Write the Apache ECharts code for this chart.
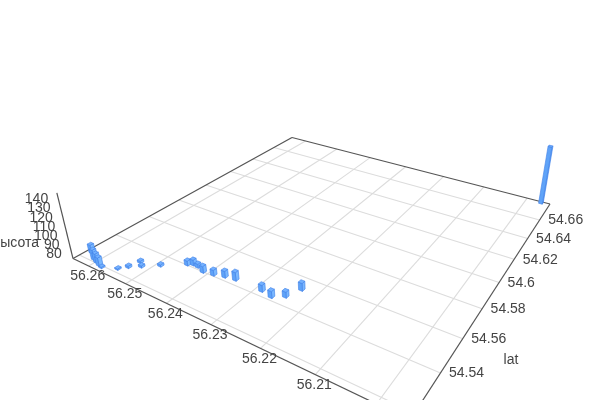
<!DOCTYPE html>
<html><head><meta charset="utf-8"><style>html,body{margin:0;background:#fff}#c{width:600px;height:400px}</style>
<script src="https://cdn.jsdelivr.net/npm/echarts@6/dist/echarts.min.js"></script></head><body><div id="c"></div><script>
const lonTicks=[56.26,56.25,56.24,56.23,56.22,56.21,56.2];
const latTicks=[54.52,54.54,54.56,54.58,54.6,54.62,54.64,54.66];
const zTicks=[80,90,100,110,120,130,140];
const lons=[56.2287,56.2263,56.2243,56.2231,56.2451,56.2442,56.2430,56.2411,56.2389,56.2368,56.2346,56.2548,56.2536,56.2530,56.2517,56.2490,56.2633,56.2610,56.2598,56.2586,56.2577,56.1968];
const lats=[54.5433,54.5422,54.5454,54.5525,54.5405,54.5419,54.5417,54.5402,54.5410,54.5425,54.5433,54.5223,54.5256,54.5309,54.5288,54.5337,54.5246,54.5217,54.5208,54.5199,54.5194,54.6776];
const heights=[82,82,81,83,80,81,79,82,81,82,84,76,77,77,77,77,84,86,85,84,76,144];
const lonRange=[56.2645,56.195],latRange=[54.5168,54.679],zRange=[74.5,145.5];
const C=[[73,258.5],[410,420],[550,204],[292,137.5]],VZ=[345,1363],alpha=-0.056;
const [x0,y0]=C[0],[x1,y1]=C[1],[x2,y2]=C[2],[x3,y3]=C[3];
const dx1=x1-x2,dx2=x3-x2,sx=x0-x1+x2-x3,dy1=y1-y2,dy2=y3-y2,sy=y0-y1+y2-y3,den=dx1*dy2-dx2*dy1;
const g=(sx*dy2-dx2*sy)/den,h=(dx1*sy-sx*dy1)/den;
const a=x1-x0+g*x1,b=x3-x0+h*x3,c=x0,d=y1-y0+g*y1,e=y3-y0+h*y3,f=y0;
function P(u,v,w){const W=g*u+h*v+1+alpha*w;return [(a*u+b*v+c+alpha*VZ[0]*w)/W,(d*u+e*v+f+alpha*VZ[1]*w)/W];}
const L=echarts.number.linearMap;
const U=x=>L(x,lonRange,[0,1]),V=x=>L(x,latRange,[0,1]),Z=x=>L(x,zRange,[0,1]);
const bars=lons.map((x,i)=>[x,lats[i],heights[i]]).sort((p,q)=>(U(p[0])-V(p[1]))-(U(q[0])-V(q[1])));
const hs=0.0058;
const ch=echarts.init(document.getElementById('c'),null,{renderer:'canvas'});
function seg(s,t,col,lw){return {type:'line',shape:{x1:s[0],y1:s[1],x2:t[0],y2:t[1]},style:{stroke:col,lineWidth:lw}};}
const lines=[];lonTicks.forEach(t=>lines.push(['lon',t]));latTicks.forEach(t=>lines.push(['lat',t]));
const frame=[[0,0,1,0],[1,0,1,1],[1,1,0,1],[0,1,0,0]];
const texts=[];
lonTicks.slice(0,6).forEach(t=>{const p=P(U(t),0,0);texts.push([t,p[0]-1,p[1]+10.5,'center']);});
latTicks.slice(1).forEach(t=>{const p=P(1,V(t),0);texts.push([t,p[0]+8.5,p[1]+0.5,'left']);});
zTicks.forEach(t=>{const p=P(0,0,Z(t));texts.push([t,p[0]-10,p[1]+0.5,'right']);});
texts.push(['высота',39,243.5,'right'],['lat',511,360.5,'center']);
ch.setOption({animation:false,xAxis:{show:false},yAxis:{show:false},series:[
{type:'custom',coordinateSystem:'none',silent:true,data:lines.map((l,i)=>i),renderItem(pa,api){const l=lines[api.value(0)];
 return l[0]==='lon'?seg(P(U(l[1]),0,0),P(U(l[1]),1,0),'#dcdcdc',1.1):seg(P(0,V(l[1]),0),P(1,V(l[1]),0),'#dcdcdc',1.1);}},
{type:'custom',coordinateSystem:'none',silent:true,data:frame,renderItem(pa,api){return seg(P(api.value(0),api.value(1),0),P(api.value(2),api.value(3),0),'#555',1.2);}},
{type:'custom',coordinateSystem:'none',silent:true,data:[[0]],renderItem(){return seg(P(0,0,0),P(0,0,1),'#555',1.2);}},
{type:'custom',coordinateSystem:'none',silent:true,data:bars,renderItem(pa,api){
 const u=U(api.value(0)),v=V(api.value(1)),w=Z(api.value(2));
 const cs=(us,vs,z)=>P(u+us*hs,v+vs*hs,z);
 const face=(q,col)=>({type:'polygon',shape:{points:q},style:{fill:col,stroke:'#3f80e8',lineWidth:.6}});
 return {type:'group',children:[
  face([cs(1,-1,0),cs(1,1,0),cs(1,1,w),cs(1,-1,w)],'#7ab8ff'),
  face([cs(-1,-1,0),cs(1,-1,0),cs(1,-1,w),cs(-1,-1,w)],'#5fa3f8'),
  face([cs(-1,-1,w),cs(1,-1,w),cs(1,1,w),cs(-1,1,w)],'#74b2ff')]};}},
{type:'custom',coordinateSystem:'none',silent:true,data:texts.map((t,i)=>i),renderItem(pa,api){const t=texts[api.value(0)];
 return {type:'text',x:t[1],y:t[2],style:{text:String(t[0]),fill:'#444',font:'14px "Liberation Sans"',align:t[3],verticalAlign:'middle'}};}}
]});
</script></body></html>
